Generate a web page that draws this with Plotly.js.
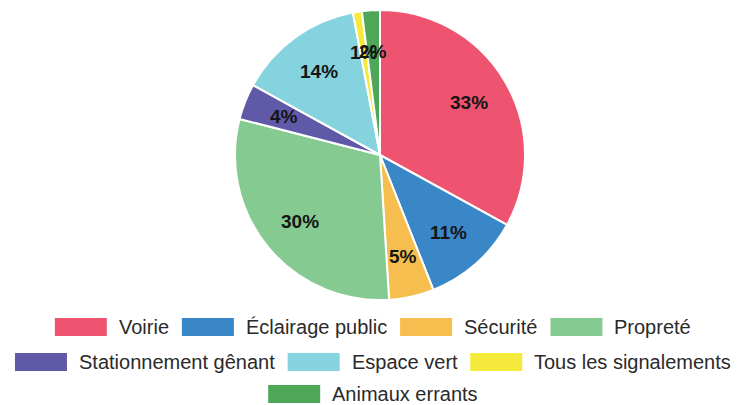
<!DOCTYPE html>
<html>
<head>
<meta charset="utf-8">
<script src="https://cdn.plot.ly/plotly-3.0.1.min.js"></script>
<style>
html,body{margin:0;padding:0;background:#fff;}
#chart{width:739px;height:405px;}
</style>
</head>
<body>
<div id="chart"></div>
<script>
const categories = ["Voirie", "Éclairage public", "Sécurité", "Propreté", "Stationnement gênant", "Espace vert", "Tous les signalements", "Animaux errants"];
const values = [33, 11, 5, 30, 4, 14, 1, 2];
const colors = ["#EE5470", "#3A87C8", "#F6BE4E", "#85CA90", "#5F59A8", "#84D3DE", "#F5EA3C", "#4DA757"];

const W = 739, H = 405;
const legendFont = "Liberation Sans, Arial, sans-serif";
const legendSize = 20;
const boxW = 52, boxH = 18, boxGap = 10, itemGap = 15;
const rowY = [327, 362, 394];
const centerX = 372;

// measure text
const cv = document.createElement('canvas').getContext('2d');
cv.font = legendSize + 'px "Liberation Sans", Arial, sans-serif';
const items = categories.map((c, i) => ({label: c, color: colors[i], w: boxW + boxGap + cv.measureText(c).width}));

// greedy wrap into rows
const rows = [];
let cur = [], curW = 0;
items.forEach(it => {
  const add = (cur.length ? itemGap : 0) + it.w;
  if (cur.length && curW + add > W - 4) { rows.push({items: cur, w: curW}); cur = [it]; curW = it.w; }
  else { cur.push(it); curW += add; }
});
if (cur.length) rows.push({items: cur, w: curW});

const shapes = [], annotations = [];
rows.forEach((r, ri) => {
  let x = centerX - r.w / 2;
  const yc = rowY[ri];
  r.items.forEach(it => {
    shapes.push({type: 'rect', xref: 'paper', yref: 'paper',
      x0: x / W, x1: (x + boxW) / W, y0: 1 - (yc + boxH / 2) / H, y1: 1 - (yc - boxH / 2) / H,
      fillcolor: it.color, line: {width: 0}});
    annotations.push({xref: 'paper', yref: 'paper', x: (x + boxW + boxGap) / W, y: 1 - yc / H,
      xanchor: 'left', yanchor: 'middle', text: it.label, showarrow: false,
      font: {family: legendFont, size: legendSize, color: '#2a2a2a'}});
    x += it.w + itemGap;
  });
});

const cx = 380, cy = 155, R = 145;

// percentage labels at mid-angle of each slice, ~0.72 of radius
const total = values.reduce((a, b) => a + b, 0);
let cum = 0;
values.forEach(v => {
  const mid = (cum + v / 2) / total * 2 * Math.PI;
  cum += v;
  const d = 0.715 * R;
  const px = cx + d * Math.sin(mid), py = cy - d * Math.cos(mid);
  annotations.push({xref: 'paper', yref: 'paper', x: px / W, y: 1 - py / H,
    xanchor: 'center', yanchor: 'middle', showarrow: false,
    text: '<b>' + Math.round(v / total * 100) + '%</b>',
    font: {family: legendFont, size: 19, color: '#151515'}});
});

const trace = {
  type: 'pie',
  labels: categories,
  values: values,
  sort: false,
  direction: 'clockwise',
  rotation: 0,
  marker: {colors: colors, line: {color: '#fff', width: 2}},
  textinfo: 'none',
  domain: {x: [(cx - R) / W, (cx + R) / W], y: [1 - (cy + R) / H, 1 - (cy - R) / H]},
  showlegend: false,
  hoverinfo: 'label+percent'
};

Plotly.newPlot('chart', [trace], {
  width: W, height: H,
  margin: {l: 0, r: 0, t: 0, b: 0},
  paper_bgcolor: '#fff',
  showlegend: false,
  shapes: shapes,
  annotations: annotations
}, {displayModeBar: false, staticPlot: true});
</script>
</body>
</html>
